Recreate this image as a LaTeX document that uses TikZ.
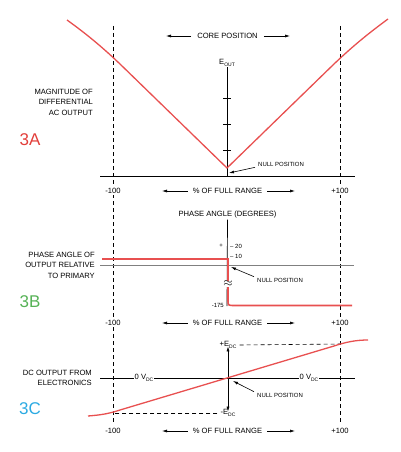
\documentclass[tikz,border=0pt]{standalone}
\usepackage{fontspec}
\setmainfont{Liberation Sans}
\usetikzlibrary{arrows.meta}
\definecolor{curvered}{RGB}{232,80,80}
\definecolor{tagred}{RGB}{226,62,58}
\definecolor{taggreen}{RGB}{86,178,86}
\definecolor{tagcyan}{RGB}{44,170,226}
\newcommand{\sbs}[1]{\raisebox{-1.3pt}{\fontsize{5}{5}\selectfont #1}}

\begin{document}
\begin{tikzpicture}[x=1pt,y=-1pt,
    lbl/.style={font=\fontsize{7.6}{10.5}\selectfont, inner sep=1pt},
    tiny/.style={font=\fontsize{6}{7}\selectfont, inner sep=1pt},
    tag/.style={font=\fontsize{17}{17}\selectfont, inner sep=0pt},
    curve/.style={draw=curvered, line width=1.3pt},
    guide/.style={dash pattern=on 4pt off 3pt, line width=0.6pt},
    axis/.style={line width=0.7pt},
    arr/.style={-{Latex[length=5pt,width=3pt]}, line width=0.6pt}]
        \useasboundingbox (0,0) rectangle (400,452);
        \draw[guide] (113,26) -- (113,423);
        \draw[guide] (340,26) -- (340,423);
        \foreach \r/\y in {a/191,b/323,c/431} {
            \node[lbl,fill=white] (lo\r) at (113,\y) {-100};
            \node[lbl,fill=white] (hi\r) at (340,\y) {+100};
            \node[lbl] (rng\r) at (227.5,\y) {\% OF FULL RANGE};
            \coordinate (rngl\r) at (162,\y);
            \coordinate (rngr\r) at (295,\y);
            \draw[arr] ([xshift=-4pt]rng\r.west) -- (rngl\r);
            \draw[arr] ([xshift=4pt]rng\r.east) -- (rngr\r);
        }
        \node[lbl] (corepos) at (227.5,36) {CORE POSITION};
        \coordinate (corel) at (166,36);
        \coordinate (corer) at (290,36);
        \draw[arr] ([xshift=-5pt]corepos.west) -- (corel);
        \draw[arr] ([xshift=5pt]corepos.east) -- (corer);
        \node[lbl,align=right,anchor=east] (magtxt) at (94,102) {MAGNITUDE OF\\DIFFERENTIAL\\AC OUTPUT};
        \node[tag,text=tagred] (tagA) at (30,140) {3A};
        \node[lbl] (eout) at (227,63) {E\sbs{OUT}};
        \coordinate (origA) at (227,176);
        \draw[axis] (100,176) -- (355,176);
        \draw[axis] (eout.south) -- (origA);
        \foreach \y in {98,124,150}
            \draw[axis] (223,\y) -- (231,\y);
        \draw[curve] (67,20) .. controls (85,33) and (100,45) .. (120,64) -- (227,168) -- (334,64) .. controls (354,45) and (369,33) .. (388,19);
        \node[tiny,anchor=west] (nullA) at (257,164) {NULL POSITION};
        \coordinate (nullptA) at (229,173);
        \draw[arr] ([xshift=-2pt]nullA.south west) -- (nullptA);
        \node[lbl] (phase) at (227.5,215) {PHASE ANGLE (DEGREES)};
        \node[lbl,align=right,anchor=east] (phtxt) at (96,265) {PHASE ANGLE OF\\OUTPUT RELATIVE\\TO PRIMARY};
        \node[tag,text=taggreen] (tagB) at (30,302) {3B};
        \coordinate (bottomB) at (227,306);
        \draw[draw=gray, line width=0.7pt] (100,265) -- (354,265);
        \draw[axis] (phase.south) -- (bottomB);
        \node[tiny] (plus) at (221,245.5) {+};
        \node[tiny,anchor=west] (t20) at (229,246) {-- 20};
        \node[tiny,anchor=west] (t10) at (229,256) {-- 10};
        \node[tiny,anchor=east] (t175) at (225,305) {-175};
        \draw[curve, line width=1.6pt] (102,259) -- (228,259) -- (228,300) .. controls (228,305.5) .. (234,305.5) -- (352,305.5);
        \node[fill=white,inner sep=0.3pt,font=\fontsize{13}{13}\selectfont] (brk) at (228,284) {$\approx$};
        \node[tiny,anchor=west] (nullB) at (256,280) {NULL POSITION};
        \coordinate (nullptB) at (231,267);
        \draw[arr] ([xshift=-2pt]nullB.north west) -- (nullptB);
        \node[lbl,align=right,anchor=east] (dctxt) at (93,378) {DC OUTPUT FROM\\ELECTRONICS};
        \node[tag,text=tagcyan] (tagC) at (30,409) {3C};
        \draw[axis] (100,378) -- (355,378);
        \node[lbl,fill=white] (zerol) at (144,378) {0 V\sbs{DC}};
        \node[lbl,fill=white] (zeror) at (309,378) {0 V\sbs{DC}};
        \node[lbl] (edcp) at (228,345) {+E\sbs{DC}};
        \node[lbl] (edcm) at (228,413) {-E\sbs{DC}};
        \coordinate (dcr) at (340,344);
        \coordinate (dcl) at (113,413);
        \draw[guide] ([xshift=2pt]edcp.east) -- (dcr);
        \draw[guide] ([xshift=-2pt]edcm.west) -- (dcl);
        \draw[{Latex[length=5pt,width=3pt]}-{Latex[length=5pt,width=3pt]}, line width=0.6pt] ([yshift=3pt]edcp.south) -- ([yshift=-3pt]edcm.north);
        \draw[curve] (88,416) .. controls (100,415) and (108,414) .. (120,410) -- (334,346) .. controls (346,342) and (356,340) .. (368,340);
        \node[tiny,anchor=west] (nullC) at (256,395) {NULL POSITION};
        \coordinate (nullptC) at (233,381);
        \draw[arr] ([xshift=-2pt]nullC.north west) -- (nullptC);
\end{tikzpicture}
\end{document}
